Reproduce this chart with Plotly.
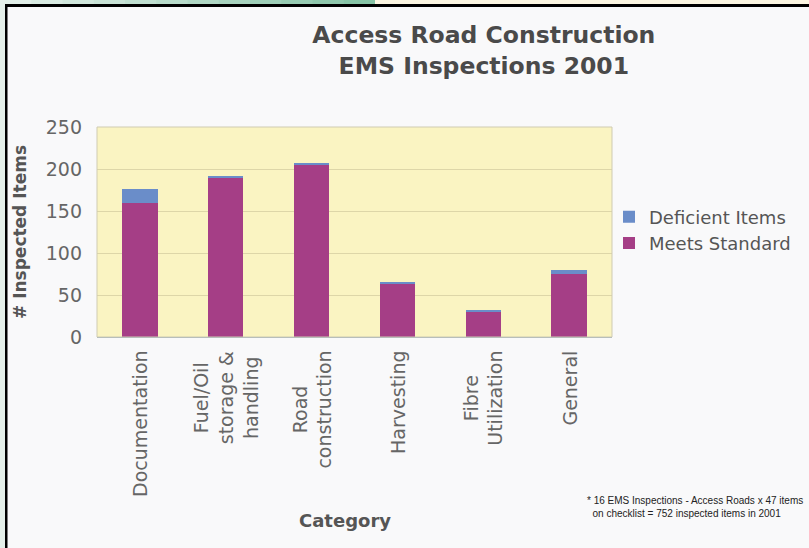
import plotly.graph_objects as go

categories = ["Documentation", "Fuel/Oil<br>storage &<br>handling", "Road<br>construction",
              "Harvesting", "Fibre<br>Utilization", "General"]
meets_standard = [159, 189, 205, 64, 30, 75]
deficient_items = [17, 3, 2, 1, 2, 5]
y_ticks = [0, 50, 100, 150, 200, 250]

W, H = 809, 548
L, R, T, B = 97, 197, 127, 211
PW, PH = W - L - R, H - T - B


def px_x(px):
    return (px - L) / PW


def px_y(py):
    return (H - B - py) / PH


fig = go.Figure()
fig.add_trace(go.Bar(x=categories, y=meets_standard, name="Meets Standard",
                     marker=dict(color="#A53E86", line=dict(width=0))))
fig.add_trace(go.Bar(x=categories, y=deficient_items, name="Deficient Items",
                     marker=dict(color="#6A8DC9", line=dict(width=0))))

shapes = []
# top decorative strip (gradient approximated with segments)
c0 = (226, 239, 232)
c1 = (135, 196, 166)
nseg = 12
for i in range(nseg):
    t = i / (nseg - 1)
    col = "rgb(%d,%d,%d)" % tuple(int(c0[k] + (c1[k] - c0[k]) * t) for k in range(3))
    x0 = 375 * i / nseg
    x1 = 375 * (i + 1) / nseg + 1
    shapes.append(dict(type="rect", xref="paper", yref="paper", x0=px_x(x0), x1=px_x(x1),
                       y0=px_y(0), y1=px_y(5), fillcolor=col, line=dict(width=0), layer="above"))
shapes.append(dict(type="rect", xref="paper", yref="paper", x0=px_x(375), x1=px_x(809),
                   y0=px_y(0), y1=px_y(5), fillcolor="#FCF6E2", line=dict(width=0), layer="above"))
shapes.append(dict(type="rect", xref="paper", yref="paper", x0=px_x(0), x1=px_x(5),
                   y0=px_y(0), y1=px_y(548), fillcolor="#E4EFE9", line=dict(width=0), layer="above"))
# black frame
shapes.append(dict(type="rect", xref="paper", yref="paper", x0=px_x(5), x1=px_x(809),
                   y0=px_y(4), y1=px_y(7), fillcolor="#000000", line=dict(width=0), layer="above"))
shapes.append(dict(type="rect", xref="paper", yref="paper", x0=px_x(5), x1=px_x(7.5),
                   y0=px_y(4), y1=px_y(548), fillcolor="#000000", line=dict(width=0), layer="above"))
# plot area border
shapes.append(dict(type="rect", xref="paper", yref="paper", x0=0, x1=1, y0=0, y1=1,
                   fillcolor="rgba(0,0,0,0)", line=dict(color="#CFCBB2", width=1), layer="above"))

annotations = []
# category labels, rotated, lines centred
for cat in categories:
    annotations.append(dict(text=cat, xref="x", yref="paper", x=cat, y=0, yshift=-12,
                            xanchor="center", yanchor="top", textangle=-90, align="center",
                            showarrow=False,
                            font=dict(family="DejaVu Sans", size=19, color="#666666")))
annotations += [
    dict(text="Category", xref="paper", yref="paper", x=px_x(345), y=px_y(520),
         xanchor="center", yanchor="middle", showarrow=False,
         font=dict(family="DejaVu Sans", size=18, color="#555555", weight="bold")),
    dict(text="* 16 EMS Inspections - Access Roads x 47 items<br>\u00a0\u00a0on checklist = 752 inspected items in 2001",
         xref="paper", yref="paper", x=px_x(585), y=px_y(507), xanchor="left", yanchor="middle",
         align="left", showarrow=False,
         font=dict(family="Liberation Sans", size=10, color="#222222")),
]

fig.update_layout(
    width=W, height=H,
    margin=dict(l=L, r=R, t=T, b=B, pad=0),
    paper_bgcolor="#F9F9FA",
    plot_bgcolor="#FAF4C2",
    barmode="stack",
    bargap=0.59,
    title=dict(text="Access Road Construction<br>EMS Inspections 2001",
               x=px_x(405), xanchor="center", y=1 - 43 / H, yanchor="middle",
               font=dict(family="DejaVu Sans", size=23.5, color="#4A4A4A", weight="bold")),
    legend=dict(traceorder="reversed", x=px_x(609), xanchor="left", y=px_y(230), yanchor="middle",
                bgcolor="rgba(0,0,0,0)", font=dict(family="DejaVu Sans", size=18, color="#555555"),
                itemwidth=30, tracegroupgap=0),
    xaxis=dict(showticklabels=False, showline=True, linecolor="#9FB0C2", linewidth=1, ticks="",
               showgrid=False),
    yaxis=dict(range=[0, 250], tickvals=y_ticks, tickfont=dict(family="DejaVu Sans", size=19, color="#666666"),
               showgrid=True, gridcolor="#DDD6A8", gridwidth=1, zeroline=False, ticks="",
               ticklabelstandoff=14,
               title=dict(text="# Inspected Items", standoff=14,
                          font=dict(family="DejaVu Sans", size=17, color="#555555", weight="bold"))),
    shapes=shapes,
    annotations=annotations,
    showlegend=True,
)

fig.write_html("out.html", config={"displayModeBar": False},
               post_script="document.body.style.margin='0';document.body.style.overflow='hidden';")
